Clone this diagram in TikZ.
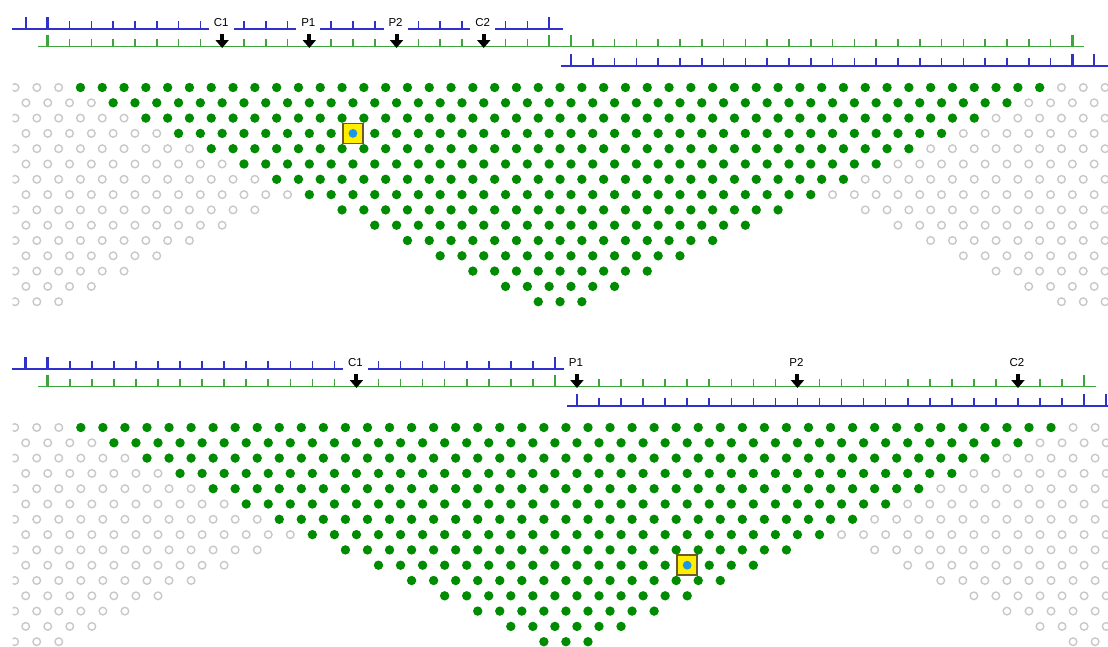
\documentclass[tikz,border=0pt]{standalone}
\usepackage{fontspec}
\setsansfont{Liberation Sans}
\usetikzlibrary{arrows.meta, calc}
\definecolor{rulblue}{RGB}{48,48,204}
\definecolor{rulgreen}{RGB}{60,165,60}
\definecolor{dotgreen}{RGB}{0,140,0}
\definecolor{dotgrey}{RGB}{200,200,200}
\definecolor{hlyellow}{RGB}{255,238,0}
\definecolor{hlborder}{RGB}{110,90,40}
\definecolor{hlblue}{RGB}{30,150,230}
\tikzset{
  % righelli
  ruleblue/.style={draw=rulblue, line width=1.5pt},
  rulegreen/.style={draw=rulgreen, line width=1.5pt},
  tickshort/.style={line width=1.6pt},
  ticklong/.style={line width=2.6pt},
  % punti del reticolo
  dotfull/.style={fill=dotgreen},
  dotempty/.style={draw=dotgrey, line width=1.4pt},
  % casella evidenziata
  hlbox/.style={draw=hlborder, fill=hlyellow, line width=1.6pt, minimum size=20pt,
    inner sep=0pt},
  % freccia di posizione
  marker/.style={line width=4pt, -{Triangle[width=13pt, length=8pt]}},
  % etichetta sopra il righello
  tag/.style={font=\fontsize{11.5}{12}\sffamily, fill=white, inner xsep=5pt,
    inner ysep=4pt, anchor=base},
}

\begin{document}
\begin{tikzpicture}[x=1pt, y=-1pt]
  \useasboundingbox (0,0) rectangle (1108,646);
  \newcommand{\pannello}[6]{%
    \begin{scope}[shift={(0,#1)}]
      \pgfmathsetmacro{\s}{#2}
      \pgfmathsetmacro{\u}{#2/2}
      \pgfmathsetmacro{\c}{47.75+23.5*#2}
      % reticolo
      \begin{scope}
        \clip (12.5,75) rectangle (1108,320);
        \foreach \k in {0,...,14} {
          \pgfmathsetmacro{\yy}{87.5+15.3*\k}
          \pgfmathtruncatemacro{\p}{mod(\k,2)}
          \foreach \j in {0,...,50} {
            \pgfmathtruncatemacro{\n}{2*\j-50+\p}
            \pgfmathtruncatemacro{\an}{abs(\n)}
            \ifnum\an<\numexpr45-3*\k\relax
              \fill[dotfull] ({\c+\n*\u},\yy) circle (4.7pt);
            \else\ifnum\an<\numexpr4+3*\k\relax\else
              \draw[dotempty] ({\c+\n*\u},\yy) circle (3.8pt);
            \fi\fi
          }
        }
      \end{scope}
      % righello blu in alto
      \draw[ruleblue] (12,29) -- ({\c+3},29);
      \foreach \m in {-1,...,23}
        \draw[ruleblue, tickshort] ({47.75+\m*\s},29) -- ++(0,-8);
      \foreach \m in {-1,0,23}
        \draw[ruleblue, ticklong] ({47.75+\m*\s},29) -- ++(0,-12);
      % righello verde
      \draw[rulegreen] (38,46.5) -- ({47.75+47*\s+12},46.5);
      \foreach \k in {0,...,47}
        \draw[rulegreen, tickshort] ({47.75+\k*\s},46.5) -- ++(0,-8);
      \foreach \k in {0,23,24,47}
        \draw[rulegreen, ticklong] ({47.75+\k*\s},46.5) -- ++(0,-12);
      % righello blu in basso
      \draw[ruleblue] ({\c+1},66) -- (1108,66);
      \foreach \m in {24,...,48}
        \draw[ruleblue, tickshort] ({47.75+\m*\s},66) -- ++(0,-8);
      \foreach \m in {24,47,48}
        \draw[ruleblue, ticklong] ({47.75+\m*\s},66) -- ++(0,-12);
      % etichette e frecce
      \foreach \k/\t in {#3} {
        \coordinate (#4\t) at ({47.75+\k*\s},48);
        \node[tag] (#4lab\t) at ({47.75+\k*\s-1},26) {\t};
        \draw[marker] ($(#4\t)+(0,-14)$) -- (#4\t);
      }
      % casella evidenziata
      \node[hlbox] (#4evid) at ({\c+#6*\u},{87.5+15.3*#5}) {};
      \fill[hlblue] (#4evid) circle (4.4pt);
    \end{scope}}
  \pannello{0}{21.8}{8/C1,12/P1,16/P2,20/C2}{a}{3}{-19}
  \pannello{340}{22.05}{14/C1,24/P1,34/P2,44/C2}{b}{9}{11}
\end{tikzpicture}
\end{document}
